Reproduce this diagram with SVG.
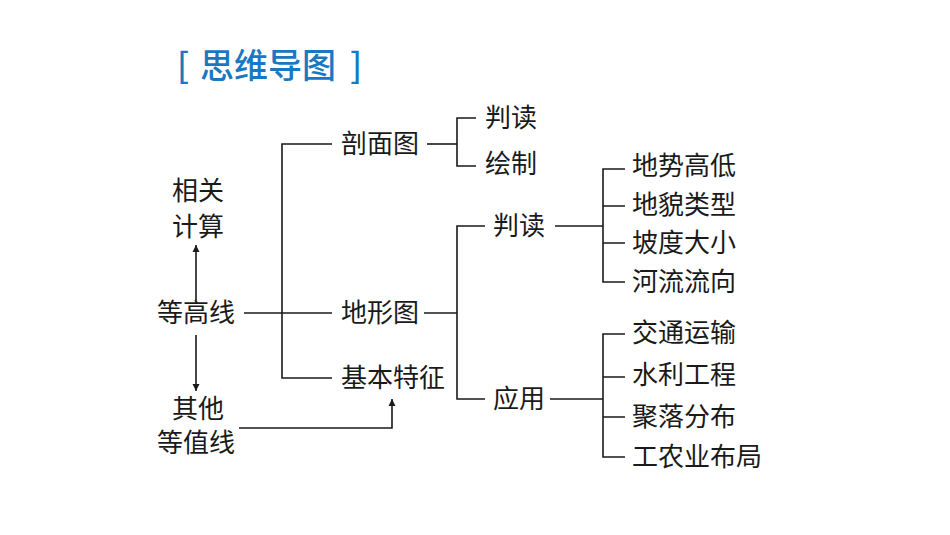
<svg xmlns="http://www.w3.org/2000/svg" width="950" height="535" viewBox="0 0 950 535">
<defs>
<style>
text{font-family:"Noto Sans CJK SC","Noto Sans",sans-serif;font-size:26px;fill:#1a1a1a}
.t{font-size:34px;fill:#1a78c2;font-weight:500}
.c{fill:none;stroke:#1a1a1a;stroke-width:1.6}
</style>
<marker id="ah" viewBox="0 0 10 10" refX="10" refY="5" markerWidth="7" markerHeight="9" markerUnits="userSpaceOnUse" orient="auto"><path d="M0,0 L10,5 L0,10 z" fill="#1a1a1a"/></marker>
</defs>
<rect width="950" height="535" fill="#fff"/>
<g id="title">
<text class="t" x="177" y="78">[</text>
<text class="t" x="200" y="78">思维导图</text>
<text class="t" x="350" y="78">]</text>
</g>
<g id="connectors">
<path class="c" d="M196,300 V245" marker-end="url(#ah)"/>
<path class="c" d="M196,335 V391" marker-end="url(#ah)"/>
<path class="c" d="M239,428 H392 V399" marker-end="url(#ah)"/>
<path class="c" d="M244,313 H332"/>
<path class="c" d="M332,144 H282 V378 H332"/>
<path class="c" d="M427,144 H457"/>
<path class="c" d="M476,118 H457 V166 H476"/>
<path class="c" d="M424,313 H457"/>
<path class="c" d="M485,226 H457 V399 H485"/>
<path class="c" d="M555,226 H603"/>
<path class="c" d="M625,169 H603 V282 H625 M603,206 H625 M603,243 H625"/>
<path class="c" d="M550,399 H603"/>
<path class="c" d="M625,334 H603 V457 H625 M603,377 H625 M603,417 H625"/>
</g>
<g id="n-dgx"><text x="157" y="322">等高线</text></g>
<g id="n-xgjs"><text x="172" y="200">相关</text><text x="172" y="236">计算</text></g>
<g id="n-qtdzx"><text x="172" y="418">其他</text><text x="157" y="452">等值线</text></g>
<g id="n-pmt"><text x="341" y="153">剖面图</text></g>
<g id="n-dxt"><text x="341" y="322">地形图</text></g>
<g id="n-jbtz"><text x="341" y="387">基本特征</text></g>
<g id="n-pd1"><text x="485" y="127">判读</text></g>
<g id="n-hz"><text x="485" y="173">绘制</text></g>
<g id="n-pd2"><text x="493" y="235">判读</text></g>
<g id="n-yy"><text x="493" y="408">应用</text></g>
<g id="n-dsgd"><text x="632" y="175">地势高低</text></g>
<g id="n-dmlx"><text x="632" y="214">地貌类型</text></g>
<g id="n-pddx"><text x="632" y="252">坡度大小</text></g>
<g id="n-hlrx"><text x="632" y="291">河流流向</text></g>
<g id="n-jtys"><text x="632" y="342">交通运输</text></g>
<g id="n-slgc"><text x="632" y="384">水利工程</text></g>
<g id="n-jlfb"><text x="632" y="426">聚落分布</text></g>
<g id="n-gnybj"><text x="632" y="466">工农业布局</text></g>
</svg>
